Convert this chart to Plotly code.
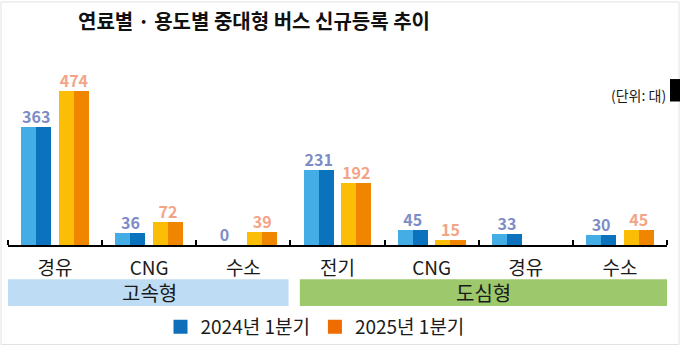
import plotly.graph_objects as go

categories = ["경유", "CNG", "수소", "전기", "CNG", "경유", "수소"]
groups = ["고속형", "도심형"]
series_names = ["2024년 1분기", "2025년 1분기"]
values_2024 = [363, 36, 0, 231, 45, 33, 30]
values_2025 = [474, 72, 39, 192, 15, 0, 45]
labels_2024 = ["363", "36", "0", "231", "45", "33", "30"]
labels_2025 = ["474", "72", "39", "192", "15", "", "45"]

FONT = "Noto Sans CJK KR, Noto Sans, sans-serif"
xs = list(range(len(categories)))

fig = go.Figure()

def add_series(vals, labels, name, c_left, c_right, c_text, c_legend, off):
    fig.add_trace(go.Bar(x=xs, y=vals, width=0.16, offset=off, marker=dict(color=c_left, line=dict(width=0)),
                         showlegend=False, hoverinfo="skip"))
    fig.add_trace(go.Bar(x=xs, y=vals, width=0.16, offset=off + 0.16, marker=dict(color=c_right, line=dict(width=0)),
                         name=name, showlegend=False))
    fig.add_trace(go.Scatter(x=[i + off + 0.16 for i in xs], y=vals, mode="text", text=labels,
                             texttemplate="<b>%{text}</b>", textposition="top center",
                             textfont=dict(family=FONT, size=16, color=c_text),
                             showlegend=False, hoverinfo="skip"))
    fig.add_trace(go.Scatter(x=[None], y=[None], mode="markers", name=name,
                             marker=dict(symbol="square", size=14, color=c_legend), showlegend=True))

add_series(values_2024, labels_2024, series_names[0], "#45ade6", "#0b72bd", "#7d8cc8", "#0f6fb9", -0.36)
add_series(values_2025, labels_2025, series_names[1], "#fbbd06", "#f08600", "#f3a486", "#ef6c00", 0.04)

PH = 210.0
def py(px):
    return (250 - px) / PH
PW = 659.0
def pxp(px):
    return (px - 8) / PW

shapes = [
    dict(type="rect", xref="x", yref="paper", x0=-0.51, x1=2.48, y0=py(312.5), y1=py(285),
         fillcolor="#bedcf3", line=dict(width=0), layer="below"),
    dict(type="rect", xref="x", yref="paper", x0=2.6, x1=6.5, y0=py(312.5), y1=py(285),
         fillcolor="#9ec86c", line=dict(width=0), layer="below"),
    dict(type="rect", xref="paper", yref="paper", x0=pxp(670), x1=pxp(681), y0=py(103), y1=py(80),
         fillcolor="black", line=dict(width=0)),
    dict(type="rect", xref="paper", yref="paper", x0=pxp(1), x1=pxp(679), y0=py(352), y1=py(1),
         fillcolor="rgba(0,0,0,0)", line=dict(width=1, color="#e2e2e2"), layer="below"),
]

annotations = [
    dict(text=groups[0], xref="x", yref="paper", x=1, y=py(299), showarrow=False,
         font=dict(family=FONT, size=20, color="#1a1a1a"), xanchor="center", yanchor="middle"),
    dict(text=groups[1], xref="x", yref="paper", x=4.55, y=py(299), showarrow=False,
         font=dict(family=FONT, size=20, color="#1a1a1a"), xanchor="center", yanchor="middle"),
    dict(text="(단위: 대)", xref="paper", yref="paper", x=pxp(668), y=py(96), showarrow=False,
         font=dict(family=FONT, size=14, color="#1a1a1a"), xanchor="right", yanchor="middle"),
]

fig.update_layout(
    width=680, height=354,
    margin=dict(l=8, r=13, t=40, b=104),
    paper_bgcolor="white", plot_bgcolor="white",
    barmode="overlay", bargap=0,
    title=dict(text="<b>연료별 · 용도별 중대형 버스 신규등록 추이</b>", xref="container", yref="container",
               x=254 / 680, y=1 - 22 / 354, xanchor="center", yanchor="middle",
               font=dict(family=FONT, size=20, color="#111111")),
    xaxis=dict(range=[-0.5, 6.5], tickmode="array", tickvals=xs, ticktext=categories,
               ticks="", showline=True, linecolor="black", linewidth=2, showgrid=False, zeroline=False,
               tickfont=dict(family=FONT, size=19, color="#1a1a1a"), ticklabelstandoff=5,
               minor=dict(tickmode="array", tickvals=[i - 0.5 for i in range(len(categories) + 1)],
                          ticks="inside", ticklen=5, tickwidth=2, tickcolor="black", showgrid=False)),
    yaxis=dict(range=[0, 630], visible=False, showgrid=False, zeroline=False),
    legend=dict(orientation="h", x=pxp(315), y=py(334), xanchor="center", yanchor="middle",
                font=dict(family=FONT, size=19, color="#1a1a1a"), bgcolor="rgba(0,0,0,0)",
                traceorder="normal", itemclick=False, itemwidth=30),
    shapes=shapes, annotations=annotations,
    font=dict(family=FONT),
)

fig.write_html("out.html")
